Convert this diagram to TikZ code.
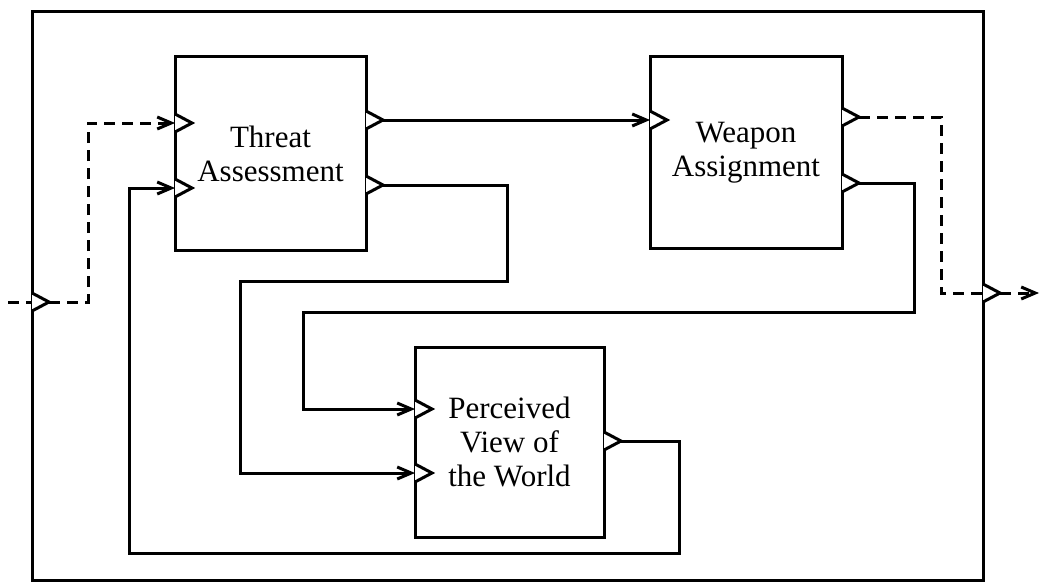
\documentclass[tikz,border=0pt]{standalone}
\usepackage{fontspec}
\setmainfont{Liberation Serif}
\usetikzlibrary{arrows.meta}
\begin{document}
\begin{tikzpicture}[x=1pt,y=-1pt,
  box/.style={draw,line width=3pt,inner sep=0pt,align=center,
    font=\fontsize{31}{34}\selectfont},
  frame/.style={draw,line width=3pt},
  port/.style={draw,line width=3pt,line join=miter,fill=white},
  conn/.style={line width=3pt,line join=miter},
  arr/.style={-{Straight Barb[length=14pt,width=12pt,line width=3pt]}},
  dsh/.style={conn,dash pattern=on 11pt off 7pt}
]
\useasboundingbox (0,0) rectangle (1041,586);
\draw[frame] (32,12) rectangle (983,580);

\node[box,minimum width=191pt,minimum height=193pt] (ta) at (270.5,153.5) {Threat\\Assessment};
\node[box,minimum width=192pt,minimum height=191pt] (wa) at (746,152.5) {\raisebox{3pt}{Weapon}\\\raisebox{3pt}{Assignment}};
\node[box,minimum width=189pt,minimum height=190pt] (pv) at (509.5,442) {Perceived\\View of\\the World};

% ports (base points on the box edges)
\coordinate (ta_i1) at (175,123);
\coordinate (ta_i2) at (175,188);
\coordinate (ta_o1) at (366,120);
\coordinate (ta_o2) at (366,185);
\coordinate (wa_i1) at (650,120);
\coordinate (wa_o1) at (842,117);
\coordinate (wa_o2) at (842,183);
\coordinate (pv_i1) at (415,409);
\coordinate (pv_i2) at (415,473);
\coordinate (pv_o1) at (604,441);
\coordinate (lp) at (32,302);
\coordinate (rp) at (983,293);
\coordinate (lin) at (8,302);
\coordinate (rout) at (1039,293);

% connectors
\draw[dsh] (lin) -- (lp);
\draw[dsh,arr] (lp) ++(17,0) -| (88,123) -- (ta_i1);
\draw[conn,arr] (ta_o1) ++(17,0) -- (wa_i1);
\draw[conn,arr] (ta_o2) ++(17,0) -| (507,281) -- (240,281) |- (pv_i2);
\draw[dsh] (wa_o1) ++(17,0) -| (941,293) -- (rp);
\draw[dsh,arr] (rp) ++(17,0) -- (rout);
\draw[conn,arr] (wa_o2) ++(17,0) -| (914,312) -- (303,312) |- (pv_i1);
\draw[conn,arr] (pv_o1) ++(17,0) -| (679,553) -- (129,553) |- (ta_i2);

% port triangles
\foreach \p in {ta_i1,ta_i2,ta_o1,ta_o2,wa_i1,wa_o1,wa_o2,pv_i1,pv_i2,pv_o1,lp,rp}
  \draw[port] (\p) ++(0,-9) -- ++(17,9) -- ++(-17,9);
\end{tikzpicture}
\end{document}
